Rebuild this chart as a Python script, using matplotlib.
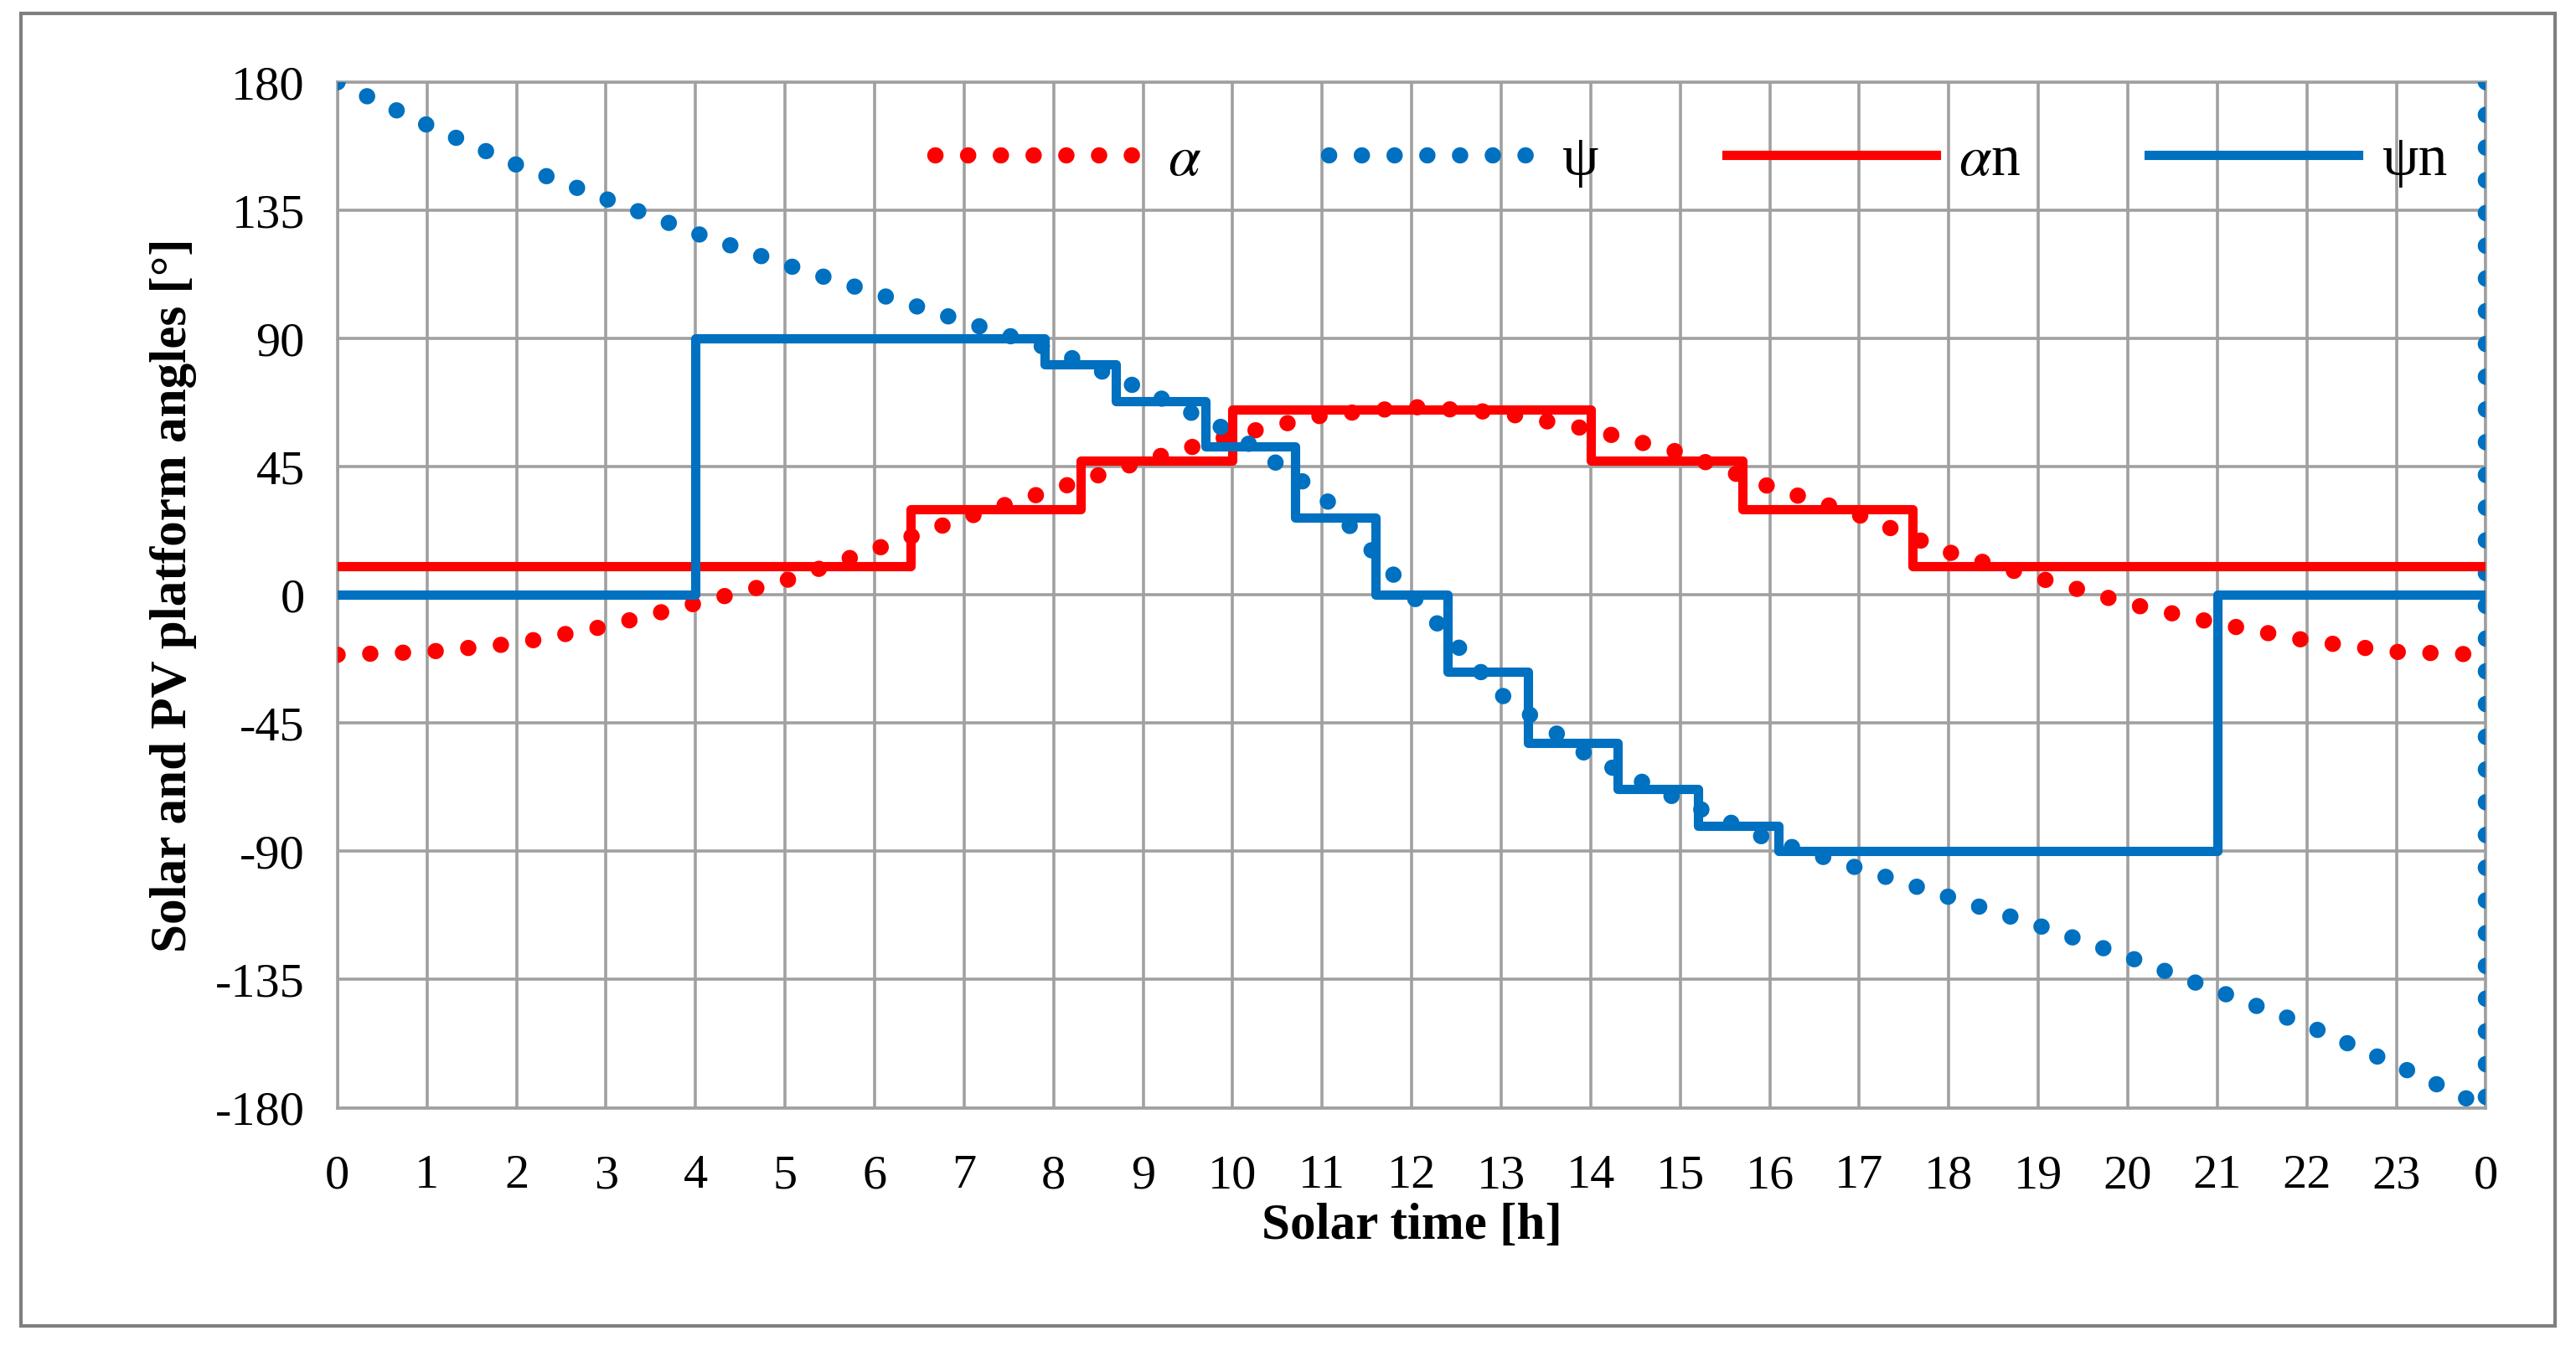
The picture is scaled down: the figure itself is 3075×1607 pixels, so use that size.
import matplotlib.pyplot as plt
from matplotlib.patches import Rectangle

hours = list(range(25))
tick_labels = [str(h) for h in range(24)] + ["0"]

# solar altitude and azimuth, hourly
alpha = [-21, -20, -17, -11, -3, 5, 16, 27, 37, 47, 56, 63, 66,
         64, 58, 50, 38, 28, 15, 6, -3, -10, -16, -20, -21]
psi = [180, 165, 151, 139, 127, 116, 106, 96, 86, 72, 57, 35, 0,
       -35, -57, -72, -86, -96, -106, -116, -127, -139, -151, -165, -180]
# wrap of azimuth at the end of the day
psi_x = hours + [24]
psi_y = psi + [180]

# platform step positions: (switch time, value)
alpha_n_t = [0, 6.4, 8.3, 10.0, 14.0, 15.7, 17.6, 24]
alpha_n_v = [10, 30, 47, 65, 47, 30, 10, 10]
psi_n_t = [0, 4.0, 7.9, 8.7, 9.7, 10.7, 11.6, 12.4, 13.3, 14.3, 15.2, 16.1, 21.0, 24]
psi_n_v = [0, 90, 81, 68, 52, 27, 0, -27, -52, -68, -81, -90, 0, 0]

RED = "#ff0000"
BLUE = "#0070c0"
plt.rcParams["font.family"] = ["Liberation Serif", "DejaVu Serif"]
plt.rcParams["mathtext.fontset"] = "stix"
plt.rcParams["axes.unicode_minus"] = False

fig = plt.figure(figsize=(15.375, 8.035), dpi=200)
ax = fig.add_axes([0.131, 0.177, 0.834, 0.762])

dot = (0, (0.01, 2.0))
ax.plot(hours, alpha, color=RED, lw=7, ls=dot, dash_capstyle="round", label=r"$\alpha$", zorder=3)
ax.plot(psi_x, psi_y, color=BLUE, lw=7, ls=dot, dash_capstyle="round", label="ψ", zorder=3)
ax.step(alpha_n_t, alpha_n_v, where="post", color=RED, lw=4, label=r"$\alpha$n", zorder=4)
ax.step(psi_n_t, psi_n_v, where="post", color=BLUE, lw=4, label="ψn", zorder=4)

ax.set_xlim(0, 24)
ax.set_ylim(-180, 180)
ax.set_xticks(hours, tick_labels)
ax.set_yticks(range(-180, 181, 45))
ax.tick_params(labelsize=21, length=0)
ax.tick_params(axis="x", pad=20)
ax.tick_params(axis="y", pad=14)
ax.grid(True, color="#a0a0a0", lw=1.3)
for s in ax.spines.values():
    s.set_color("#a0a0a0")
    s.set_linewidth(1.3)
ax.set_xlabel("Solar time [h]", fontsize=22, fontweight="bold", labelpad=2)
ax.set_ylabel("Solar and PV platform angles [°]", fontsize=22, fontweight="bold", labelpad=8)

ax.legend(loc="upper center", bbox_to_anchor=(0.63, 1.0), ncol=4, frameon=False,
          fontsize=25, handlelength=3.6, columnspacing=2.2, handletextpad=0.4)

fig.patches.append(Rectangle((0.008, 0.015), 0.984, 0.975, transform=fig.transFigure,
                             fill=False, edgecolor="#7f7f7f", lw=1.5))
fig.savefig("out.png", dpi=200)
